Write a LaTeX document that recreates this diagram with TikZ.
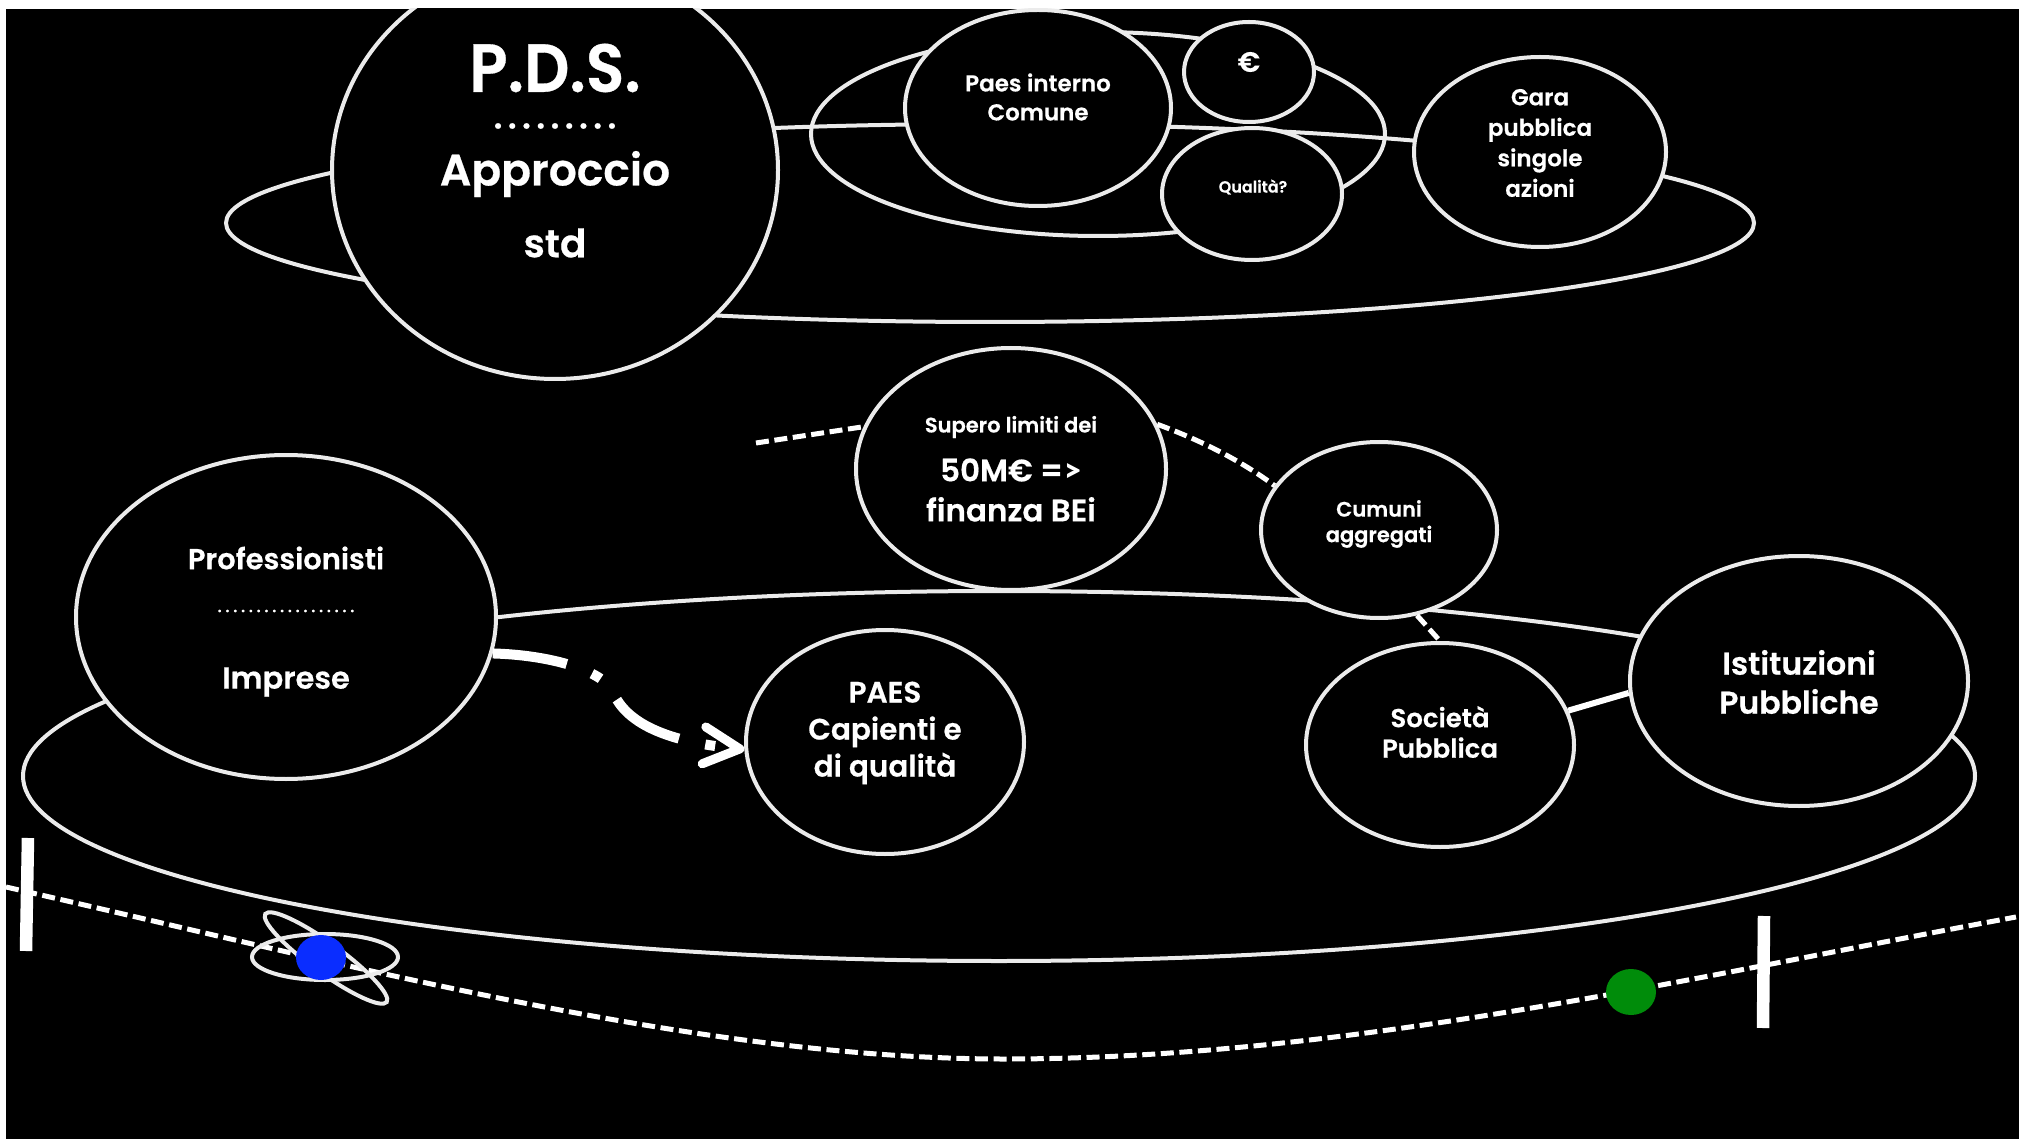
\documentclass[tikz,border=0pt]{standalone}
\usepackage{fontspec}
\setmainfont[BoldFont={Poppins SemiBold},BoldFeatures={FakeBold=0.5}]{Poppins}
\newfontfamily\gtfont[Ligatures=NoCommon]{Lato Bold}
\usetikzlibrary{shapes.geometric,arrows.meta}
\definecolor{ballblue}{HTML}{0A2DFF}
\definecolor{ballgreen}{HTML}{008C0A}
\tikzset{
  x=1pt,y=-1pt,
  orb/.style={ellipse,draw=white!92!black,line width=4pt,inner sep=0pt,fill=black},
  ring/.style={ellipse,draw=white!92!black,line width=4pt,inner sep=0pt},
  txt/.style={text=white,align=center,inner sep=0pt,font=\bfseries},
  dashline/.style={white,line width=5pt,dash pattern=on 13pt off 5.6pt},
  bar/.style={white,line width=12.5pt},
  ball/.style={ellipse,inner sep=0pt}
}
\newcommand{\fs}[2]{\fontsize{#1}{#2}\selectfont}
\newcommand{\dt}[1]{.\hspace{#1}}
\begin{document}
\begin{tikzpicture}
\useasboundingbox (0,0) rectangle (2019,1139);
\fill[white] (0,0) rectangle (2019,1139);
\fill[black] (6,9) rectangle (2019,1139);
\begin{scope}
\clip (6,9) rectangle (2019,1139);
% background rings
\node[ring,minimum width=1528pt,minimum height=198pt] (topring) at (990,223) {};
\node[ring,minimum width=574pt,minimum height=204pt] (midring) at (1098,134) {};
\node[ring,minimum width=1952pt,minimum height=370pt] (lowring) at (999,776) {};
% bottom dashed path
\coordinate (l0) at (6,887);
\coordinate (l1) at (1004,1059);
\coordinate (l2) at (2016,917);
\draw[dashline] (l0) .. controls (350,965) and (700,1059) .. (l1) .. controls (1350,1059) and (1700,975) .. (l2);
\coordinate (b1a) at (28,838); \coordinate (b1b) at (26,951);
\coordinate (b2a) at (1764,916); \coordinate (b2b) at (1763,1028);
\draw[bar] (b1a) -- (b1b);
\draw[bar] (b2a) -- (b2b);
% nodes
\node[orb,minimum width=446pt,minimum height=418pt] (pds) at (555,170) {};
\node[orb,minimum width=266pt,minimum height=196pt] (paesint) at (1038,108) {};
\node[orb,minimum width=130pt,minimum height=100pt] (euro) at (1249,72) {};
\node[orb,minimum width=180pt,minimum height=132pt] (qual) at (1252,194) {};
\node[orb,minimum width=252pt,minimum height=190pt] (gara) at (1540,152) {};
\node[orb,minimum width=310pt,minimum height=242pt] (supero) at (1011,469) {};
\node[orb,minimum width=236pt,minimum height=176pt] (cumuni) at (1379,530) {};
\node[orb,minimum width=268pt,minimum height=204pt] (soc) at (1440,745) {};
\node[orb,minimum width=338pt,minimum height=250pt] (ist) at (1799,681) {};
\node[orb,minimum width=278pt,minimum height=224pt] (paes) at (885,742) {};
\node[orb,minimum width=420pt,minimum height=324pt] (prof) at (286,617) {};
% connectors
\coordinate (s0) at (756,443);
\draw[dashline] (s0) -- (supero.164);
\draw[dashline] (supero.17) .. controls (1200,440) and (1240,460) .. (cumuni.157);
\draw[dashline] (cumuni.-66) -- (soc.north);
\draw[white,line width=6pt] (soc.15) -- (ist.184);
\draw[white,line width=10pt,dash pattern=on 75pt off 27pt on 10pt off 27pt,
  -{Straight Barb[length=36pt,width=37pt,line width=9pt,round]}]
  (prof.-10) .. controls (550,655) and (600,670) .. (612,690) .. controls (622,715) and (650,740) .. (paes.183);
% planet
\node[ring,minimum width=146pt,minimum height=46pt] (orbita) at (325,957) {};
\node[ring,minimum width=150pt,minimum height=30pt,rotate=-36] (orbitb) at (326,958) {};
\node[ball,fill=ballblue,minimum width=50pt,minimum height=45pt] (blue) at (321,957.5) {};
\node[ball,fill=ballgreen,minimum width=50pt,minimum height=46pt] (greenb) at (1631,992) {};
% texts
\node[txt,font=\bfseries\fs{68}{68}] (t1) at (555,68) {\scalebox{0.93}[1]{P.D.S.}};
\node[txt,font=\bfseries\fs{34}{34}] (t2) at (555,126) {\dt{5.4pt}\dt{5.4pt}\dt{5.4pt}\dt{5.4pt}\dt{5.4pt}\dt{5.4pt}\dt{5.4pt}\dt{5.4pt}.};
\node[txt,font=\bfseries\fs{44}{44}] (t3) at (555,174) {Approccio};
\node[txt,font=\bfseries\fs{39}{39}] (t4) at (555,243) {std};
\node[txt,font=\bfseries\fs{23}{29}] (t5) at (1038,97) {Paes interno\\Comune};
\node[txt,font=\bfseries\fs{28}{28}] (t6) at (1249,62) {€};
\node[txt,font=\bfseries\fs{16}{16}] (t7) at (1253,187) {Qualità?};
\node[txt,font=\bfseries\fs{23}{30.5}] (t8) at (1540,143) {Gara\\pubblica\\singole\\azioni};
\node[txt,font=\bfseries\fs{21}{21}] (t9) at (1011,427) {Supero limiti dei};
\node[txt,font=\bfseries\fs{31}{40}] (t10) at (1011,490) {50M€ =\kern1pt{\gtfont>}\\finanza BEi};
\node[txt,font=\bfseries\fs{21}{25.5}] (t11) at (1379,524) {Cumuni\\aggregati};
\node[txt,font=\bfseries\fs{29}{29}] (t12) at (286,558) {Professionisti};
\node[txt,font=\bfseries\fs{15}{15}] (t13) at (286,611) {\dt{3.9pt}\dt{3.9pt}\dt{3.9pt}\dt{3.9pt}\dt{3.9pt}\dt{3.9pt}\dt{3.9pt}\dt{3.9pt}\dt{3.9pt}\dt{3.9pt}\dt{3.9pt}\dt{3.9pt}\dt{3.9pt}\dt{3.9pt}\dt{3.9pt}\dt{3.9pt}\dt{3.9pt}.};
\node[txt,font=\bfseries\fs{30.5}{30.5}] (t14) at (286,682) {Imprese};
\node[txt,font=\bfseries\fs{29.5}{37}] (t15) at (885,733) {PAES\\Capienti e\\di qualità};
\node[txt,font=\bfseries\fs{26}{30.5}] (t16) at (1440,732) {Società\\Pubblica};
\node[txt,font=\bfseries\fs{31.5}{39}] (t17) at (1799,682) {Istituzioni\\Pubbliche};
\end{scope}
\end{tikzpicture}
\end{document}
